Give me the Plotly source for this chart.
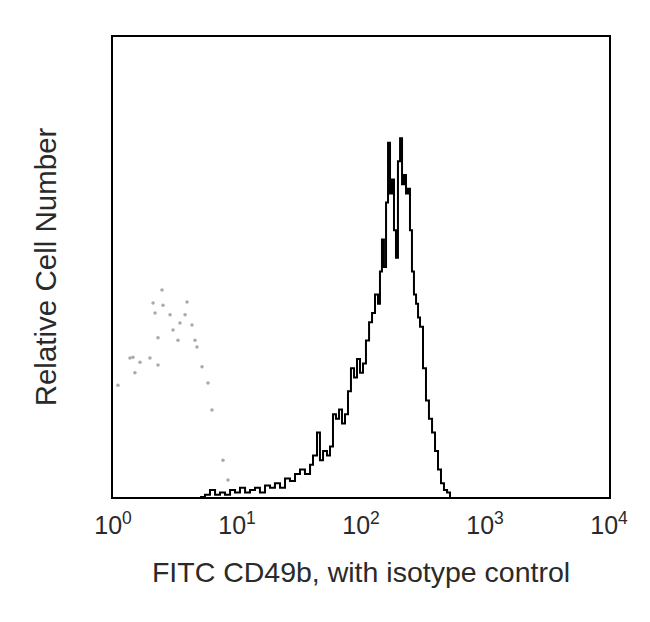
import plotly.graph_objects as go

# Stained sample histogram (log10 fluorescence, relative counts)
stained_log = [0.702, 0.742, 0.782, 0.823, 0.863, 0.903, 0.944, 0.984, 1.024, 1.065,
               1.105, 1.145, 1.185, 1.226, 1.266, 1.306, 1.347, 1.387, 1.427, 1.468,
               1.508, 1.548, 1.589, 1.613, 1.645, 1.669, 1.694, 1.726, 1.750, 1.774,
               1.798, 1.823, 1.847, 1.871, 1.895, 1.919, 1.944, 1.968, 1.992, 2.016,
               2.040, 2.065, 2.089, 2.113, 2.137, 2.153, 2.169, 2.185, 2.202, 2.218,
               2.234, 2.250, 2.266, 2.282, 2.298, 2.315, 2.331, 2.347, 2.363, 2.379,
               2.395, 2.411, 2.427, 2.444, 2.460, 2.476, 2.500, 2.524, 2.548, 2.573,
               2.597, 2.621, 2.645, 2.669, 2.694, 2.718]
stained_counts = [0, 0.5, 1.5, 0.5, 1, 0.5, 1.5, 1, 2, 1,
                  1.5, 2, 1, 2.5, 2, 3, 2, 4, 3.5, 5,
                  6, 5, 7, 9, 14, 8, 10, 9, 11, 18,
                  17, 19, 16, 18, 23, 28, 26, 30, 27, 29,
                  34, 38, 40, 44, 42, 49, 56, 50, 64, 77,
                  66, 69, 58, 52, 73, 78, 68, 70, 66, 67,
                  58, 49, 44, 42, 39, 37, 28, 21, 17, 14,
                  10, 6, 3, 1.5, 1, 0]

# Isotype control (sparse gray dots)
isotype_log = [0.040, 0.137, 0.161, 0.177, 0.218, 0.298, 0.323, 0.339, 0.363, 0.363,
               0.395, 0.403, 0.460, 0.484, 0.524, 0.540, 0.581, 0.597, 0.637, 0.661,
               0.677, 0.718, 0.766, 0.798, 0.887, 0.927]
isotype_counts = [24.3, 30.2, 30.4, 27.0, 29.3, 30.2, 42.2, 40.0, 28.7, 34.6,
                  45.0, 41.7, 39.6, 36.3, 34.1, 37.8, 39.6, 42.4, 37.4, 34.1,
                  32.6, 28.3, 24.8, 18.9, 8.0, 3.7]

tick_vals = [1, 10, 100, 1000, 10000]
tick_text = ["10<sup>0</sup>", "10<sup>1</sup>", "10<sup>2</sup>", "10<sup>3</sup>", "10<sup>4</sup>"]

fig = go.Figure()
fig.add_trace(go.Scatter(
    x=[10 ** v for v in isotype_log], y=isotype_counts,
    mode="markers", marker=dict(color="#aaaaaa", size=3.5),
    showlegend=False, hoverinfo="skip"))
fig.add_trace(go.Scatter(
    x=[10 ** v for v in stained_log], y=stained_counts,
    mode="lines", line=dict(color="black", width=2, shape="hv"),
    showlegend=False))

font = "Liberation Sans, Arial, sans-serif"
fig.update_layout(
    width=650, height=622,
    margin=dict(l=105, r=49, t=29, b=133),
    paper_bgcolor="white", plot_bgcolor="white",
    font=dict(family=font, color="#2a2a2a", size=25),
    xaxis=dict(type="log", range=[0, 4], tickvals=tick_vals, ticktext=tick_text,
               showgrid=False, zeroline=False, ticks="",
               showline=True, mirror=True, linecolor="black", linewidth=2,
               tickfont=dict(size=25), ticklabelstandoff=5,
               title=dict(text="FITC CD49b, with isotype control", font=dict(size=28.5), standoff=24)),
    yaxis=dict(range=[0, 100], showticklabels=False, showgrid=False, zeroline=False, ticks="",
               showline=True, mirror=True, linecolor="black", linewidth=2,
               title=dict(text="Relative Cell Number", font=dict(size=29.5), standoff=46)),
)
fig.write_html("out.html")
